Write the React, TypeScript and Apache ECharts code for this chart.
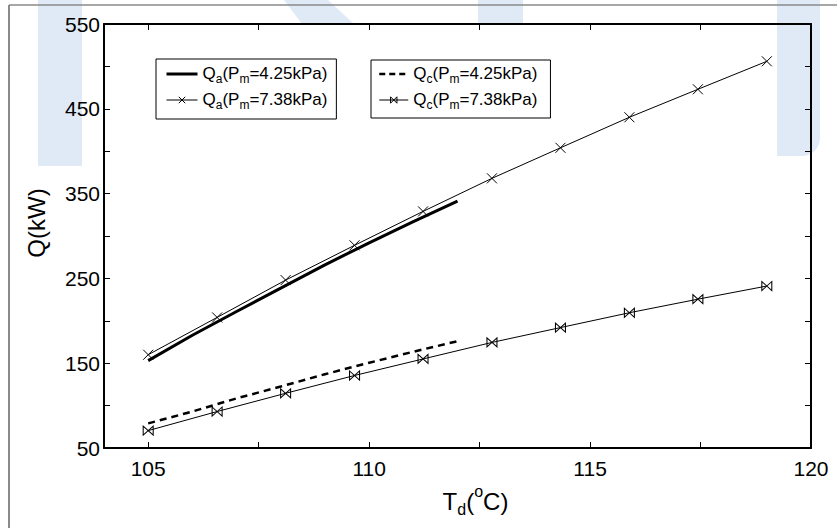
import React, { useEffect, useRef } from "react";
import * as echarts from "echarts";

// ---- data ----
const xShort = [105, 106, 107, 108, 109, 110, 111, 112];
const qa425 = [153, 183, 211, 238.5, 266, 292, 317, 341];
const qc425 = [79, 93, 108.5, 122.5, 137, 150.5, 163.5, 176];

const xLong = [105, 106.56, 108.11, 109.67, 111.22, 112.78, 114.33, 115.89, 117.44, 119];
const qa738 = [160, 204, 248, 289, 329, 368, 404, 440, 473, 506];
const qc738 = [70.5, 93, 114.5, 135.5, 155, 174.5, 192, 209.5, 225.5, 241];

const seriesNames = ["Qa(Pm=4.25kPa)", "Qa(Pm=7.38kPa)", "Qc(Pm=4.25kPa)", "Qc(Pm=7.38kPa)"];

const xTickValues = [105, 107.5, 110, 112.5, 115, 117.5];
const xLabelValues = [105, 110, 115, 120];
const yTickValues = [50, 100, 150, 200, 250, 300, 350, 400, 450, 500, 550];
const yLabelValues = [50, 150, 250, 350, 450, 550];

const FONT = "'Liberation Sans', Arial, Helvetica, sans-serif";
const WM = "#e0eaf6";

const pairs = (xs: number[], ys: number[]) => xs.map((x, i) => [x, ys[i]]);

const legendFormatter = (name: string) => {
  const m = name.match(/^Q(\w)\(Pm=(.*)\)$/);
  if (!m) return name;
  return `{n|Q}{s|${m[1]}}{n|(P}{s|m}{n|=${m[2]})}`;
};

const legendRich = {
  n: { fontSize: 17, fontFamily: FONT, color: "#000", verticalAlign: "top", lineHeight: 18 },
  s: { fontSize: 12, fontFamily: FONT, color: "#000", verticalAlign: "top", lineHeight: 13, padding: [8, 0, 0, 0] },
};

const X_SYMBOL = "path://M0,0L10,10M10,0L0,10";
const BOWTIE = "path://M0,0L10,10L10,0L0,10Z";

const hiddenSymbol = { color: "rgba(0,0,0,0)", borderWidth: 0, borderColor: "rgba(0,0,0,0)" };
const thinSymbol = { color: "rgba(0,0,0,0)", borderWidth: 1, borderColor: "#000" };

export default function App() {
  const ref = useRef<HTMLDivElement>(null);
  useEffect(() => {
    if (!ref.current) return;
    const chart = echarts.init(ref.current, null, { renderer: "svg" });
    const axisCommon = {
      type: "value" as const,
      axisLine: { show: true, onZero: false, lineStyle: { color: "#000", width: 2 } },
      splitLine: { show: false },
      z: 3,
    };
    const legendCommon = {
      orient: "vertical",
      itemGap: 6,
      itemHeight: 8,
      borderColor: "#000",
      borderWidth: 1,
      backgroundColor: "#fff",
      formatter: legendFormatter,
      textStyle: { rich: legendRich },
      selectedMode: false,
    };
    chart.setOption({
      animation: false,
      backgroundColor: "#fff",
      textStyle: { fontFamily: FONT },
      grid: { left: 104, right: 26, top: 24, bottom: 80, show: true, backgroundColor: "#fff", borderWidth: 0 },
      graphic: [
        { type: "rect", z: -1, shape: { x: 38, y: 0, width: 44, height: 166 }, style: { fill: WM } },
        { type: "polygon", z: -1, shape: { points: [[284, 0], [328, 0], [354, 24], [302, 24]] }, style: { fill: WM } },
        { type: "rect", z: -1, shape: { x: 478, y: 0, width: 45, height: 24 }, style: { fill: WM } },
        { type: "rect", z: 1, shape: { x: 777, y: 0, width: 43, height: 156, r: [0, 0, 18, 0] }, style: { fill: WM } },
        { type: "line", z: 5, shape: { x1: 9, y1: 5, x2: 837, y2: 5 }, style: { stroke: "#8a8a8a", lineWidth: 1.5 } },
        { type: "line", z: 5, shape: { x1: 9, y1: 5, x2: 9, y2: 528 }, style: { stroke: "#8a8a8a", lineWidth: 2 } },
        {
          type: "text",
          z: 5,
          x: 36,
          y: 223,
          rotation: Math.PI / 2,
          style: { text: "Q(kW)", fontSize: 24, fontFamily: FONT, fill: "#000", align: "center", verticalAlign: "middle" },
        },
      ],
      xAxis: [
        {
          ...axisCommon,
          position: "bottom",
          min: 104,
          max: 120,
          axisTick: { show: true, inside: true, length: 6, customValues: xTickValues, lineStyle: { color: "#000", width: 1 } },
          axisLabel: { show: true, customValues: xLabelValues, fontSize: 21, color: "#000", margin: 10, fontFamily: FONT },
          name: "{n|T}{d|d}{n|(}{o|o}{n|C)}",
          nameLocation: "middle",
          nameGap: 30,
          nameTextStyle: {
            padding: [0, 0, 0, 36],
            rich: {
              n: { fontSize: 24, fontFamily: FONT, color: "#000", verticalAlign: "top", padding: [6, 0, 0, 0], lineHeight: 24 },
              d: { fontSize: 16, fontFamily: FONT, color: "#000", verticalAlign: "top", padding: [18, 0, 0, 0], lineHeight: 16 },
              o: { fontSize: 16, fontFamily: FONT, color: "#000", verticalAlign: "top", padding: [0, 0, 0, 0], lineHeight: 16 },
            },
          },
        },
        {
          ...axisCommon,
          position: "top",
          min: 104,
          max: 120,
          axisTick: { show: true, inside: true, length: 6, customValues: xTickValues, lineStyle: { color: "#000", width: 1 } },
          axisLabel: { show: false },
        },
      ],
      yAxis: [
        {
          ...axisCommon,
          position: "left",
          min: 50,
          max: 550,
          axisTick: { show: true, inside: true, length: 6, customValues: yTickValues, lineStyle: { color: "#000", width: 1 } },
          axisLabel: { show: true, customValues: yLabelValues, fontSize: 21, color: "#000", margin: 4, fontFamily: FONT },
        },
        {
          ...axisCommon,
          position: "right",
          min: 50,
          max: 550,
          axisTick: { show: true, inside: true, length: 6, customValues: yTickValues, lineStyle: { color: "#000", width: 1 } },
          axisLabel: { show: false },
        },
      ],
      legend: [
        {
          ...legendCommon,
          data: [
            { name: seriesNames[0], itemStyle: hiddenSymbol, lineStyle: { color: "#000", width: 3, type: "solid" } },
            { name: seriesNames[1], itemStyle: thinSymbol, lineStyle: { color: "#000", width: 1, type: "solid" } },
          ],
          left: 156,
          top: 59,
          padding: [6, 9, 8, 9],
          itemWidth: 31,
        },
        {
          ...legendCommon,
          data: [
            { name: seriesNames[2], itemStyle: hiddenSymbol, lineStyle: { color: "#000", width: 2.5, type: [6, 4] } },
            { name: seriesNames[3], itemStyle: thinSymbol, lineStyle: { color: "#000", width: 1, type: "solid" } },
          ],
          left: 371,
          top: 60,
          padding: [5, 13, 7, 7],
          itemWidth: 29,
        },
      ],
      series: [
        {
          name: seriesNames[0],
          type: "line",
          data: pairs(xShort, qa425),
          symbol: "none",
          lineStyle: { color: "#000", width: 3 },
          itemStyle: { color: "#000" },
        },
        {
          name: seriesNames[1],
          type: "line",
          data: pairs(xLong, qa738),
          symbol: X_SYMBOL,
          symbolSize: 10,
          showSymbol: true,
          lineStyle: { color: "#000", width: 1 },
          itemStyle: { color: "rgba(0,0,0,0)", borderColor: "#000", borderWidth: 1 },
        },
        {
          name: seriesNames[2],
          type: "line",
          data: pairs(xShort, qc425),
          symbol: "none",
          lineStyle: { color: "#000", width: 2.5, type: [7, 5] },
          itemStyle: { color: "#000" },
        },
        {
          name: seriesNames[3],
          type: "line",
          data: pairs(xLong, qc738),
          symbol: BOWTIE,
          symbolSize: [10, 9],
          showSymbol: true,
          lineStyle: { color: "#000", width: 1 },
          itemStyle: { color: "rgba(0,0,0,0)", borderColor: "#000", borderWidth: 1 },
        },
      ],
    });
    return () => chart.dispose();
  }, []);
  return <div ref={ref} style={{ position: "fixed", left: 0, top: 0, width: 837, height: 528 }} />;
}
